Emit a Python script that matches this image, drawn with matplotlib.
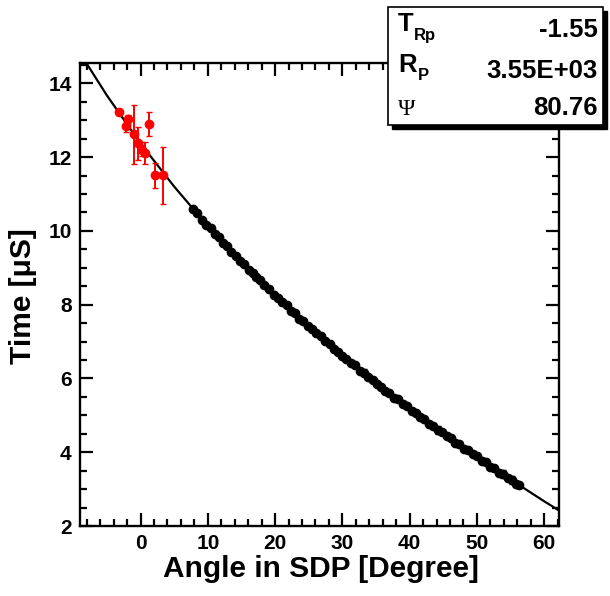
import matplotlib
matplotlib.use("Agg")
import matplotlib.pyplot as plt
from matplotlib.patches import Rectangle
from matplotlib.ticker import MultipleLocator

plt.rcParams['font.family'] = ['Liberation Sans', 'DejaVu Sans']
plt.rcParams['font.weight'] = 'bold'

# Daten
red_x = [-3.2, -2.1, -1.9, -0.9, -0.4, 0.25, 0.6, 1.2, 2.2, 3.4]
red_y = [13.21, 12.84, 13.02, 12.62, 12.37, 12.19, 12.10, 12.89, 11.51, 11.51]
red_err = [0.08, 0.15, 0.12, 0.80, 0.45, 0.15, 0.30, 0.32, 0.34, 0.77]

black_x = [7.8, 8.4, 9.1, 9.8, 10.4, 11.0, 11.6, 12.3, 12.9, 13.5,
           14.2, 14.8, 15.4, 16.1, 16.7, 17.2, 17.8, 18.4, 19.1, 19.8,
           20.4, 21.0, 21.7, 22.3, 22.9, 23.6, 24.2, 24.9, 25.5, 26.1,
           26.8, 27.4, 28.1, 28.7, 29.4, 30.0, 30.6, 31.3, 31.9, 32.6,
           33.2, 33.8, 34.5, 35.1, 35.8, 36.4, 37.0, 37.7, 38.3, 39.0,
           39.6, 40.3, 40.9, 41.6, 42.2, 42.9, 43.5, 44.2, 44.8, 45.5,
           46.1, 46.8, 47.4, 48.1, 48.7, 49.4, 50.0, 50.7, 51.3, 52.0,
           52.6, 53.3, 53.9, 54.6, 55.2, 55.8, 56.3]
black_y = [10.58, 10.48, 10.30, 10.17, 10.07, 9.92, 9.84, 9.68, 9.58, 9.43,
           9.32, 9.18, 9.10, 8.94, 8.86, 8.74, 8.67, 8.52, 8.42, 8.27,
           8.19, 8.07, 7.98, 7.84, 7.77, 7.62, 7.55, 7.41, 7.35, 7.22,
           7.14, 7.01, 6.93, 6.80, 6.72, 6.60, 6.54, 6.41, 6.36, 6.21,
           6.16, 6.04, 5.97, 5.85, 5.78, 5.66, 5.61, 5.48, 5.43, 5.30,
           5.25, 5.12, 5.07, 4.95, 4.90, 4.77, 4.72, 4.60, 4.55, 4.43,
           4.38, 4.26, 4.22, 4.10, 4.05, 3.94, 3.89, 3.77, 3.73, 3.61,
           3.57, 3.45, 3.41, 3.29, 3.25, 3.15, 3.12]
black_err = [0.05] * 40 + [0.10] + [0.05] * 16 + [0.10, 0.05, 0.05] + [0.05] * 12 + [0.12, 0.05, 0.10, 0.05, 0.05]

fit_x = [-9, -5, 0, 5, 10, 15, 20, 25, 30, 35, 40, 45, 50, 55, 60, 62.2]
fit_y = [14.82, 13.67, 12.37, 11.20, 10.13, 9.16, 8.25, 7.41, 6.62, 5.88,
         5.18, 4.51, 3.88, 3.26, 2.67, 2.42]

stat_names = ['T', 'R', '\u03a8']
stat_subs = ['Rp', 'P', '']
stat_values = ['-1.55', '3.55E+03', '80.76']


def main():
    W, H = 610, 596
    fig = plt.figure(figsize=(W / 100, H / 100), dpi=100)
    ax = fig.add_axes([80 / W, 1 - 526 / H, 479 / W, 463 / H])

    ax.plot(fit_x, fit_y, color='black', lw=1.6, zorder=3)
    ax.errorbar(black_x, black_y, yerr=black_err, fmt='o', color='black',
                ms=6, elinewidth=1.2, capsize=2, zorder=4)
    ax.errorbar(red_x, red_y, yerr=red_err, fmt='o', color='#ff0000',
                ms=6, elinewidth=1.4, capsize=2.5, zorder=5)

    ax.set_xlim(-9.0, 62.2)
    ax.set_ylim(2, 14.55)
    ax.xaxis.set_major_locator(MultipleLocator(10))
    ax.xaxis.set_minor_locator(MultipleLocator(2))
    ax.yaxis.set_major_locator(MultipleLocator(2))
    ax.yaxis.set_minor_locator(MultipleLocator(0.5))
    ax.tick_params(which='both', direction='in', top=True, right=True, width=1.6,
                   labelsize=15, pad=6)
    ax.tick_params(which='major', length=9.5)
    ax.tick_params(which='minor', length=4.8)
    for s in ax.spines.values():
        s.set_linewidth(1.7)
    for lab in ax.get_xticklabels() + ax.get_yticklabels():
        lab.set_fontweight('bold')

    ax.set_xlabel('Angle in SDP [Degree]', fontsize=21.5, fontweight='bold')
    ax.set_ylabel('Time [\u03bcS]', fontsize=21.5, fontweight='bold')
    ax.xaxis.set_label_coords(0.502, -0.063)
    ax.yaxis.set_label_coords(-0.090, 0.497)

    # Statistik-Box mit Schatten
    x0, x1, yt, yb = 388, 603, 7, 125
    fig.patches.append(Rectangle(((x0 + 4) / W, 1 - (yb + 4) / H), (x1 - x0) / W, (yb - yt) / H,
                                 transform=fig.transFigure, facecolor='black', edgecolor='black',
                                 zorder=10))
    fig.patches.append(Rectangle((x0 / W, 1 - yb / H), (x1 - x0) / W, (yb - yt) / H,
                                 transform=fig.transFigure, facecolor='white', edgecolor='black',
                                 lw=1.2, zorder=11))

    name_base = [31, 72, 115]
    sub_base = [40, 80, 0]
    sub_x = [414, 418, 0]
    val_base = [37, 78, 115]
    for i in range(3):
        if stat_names[i] == '\u03a8':
            fig.text(398 / W, 1 - name_base[i] / H, stat_names[i], fontsize=17,
                     family='Liberation Serif', fontweight='normal', va='baseline', zorder=12)
        else:
            fig.text(398 / W, 1 - name_base[i] / H, stat_names[i], fontsize=18.5,
                     fontweight='bold', va='baseline', zorder=12)
            fig.text(sub_x[i] / W, 1 - sub_base[i] / H, stat_subs[i], fontsize=12,
                     fontweight='bold', va='baseline', zorder=12)
        fig.text(598 / W, 1 - val_base[i] / H, stat_values[i], fontsize=18.5,
                 fontweight='bold', ha='right', va='baseline', zorder=12)

    fig.savefig('out.png', dpi=100)


if __name__ == '__main__':
    main()
